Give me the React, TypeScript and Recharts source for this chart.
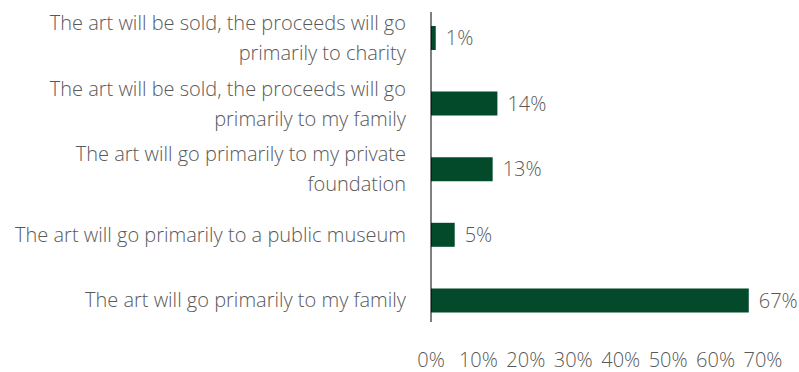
import React from 'react';
import { BarChart, Bar, XAxis, YAxis, LabelList } from 'recharts';

const categories = [
  'The art will be sold, the proceeds will go\nprimarily to charity',
  'The art will be sold, the proceeds will go\nprimarily to my family',
  'The art will go primarily to my private\nfoundation',
  'The art will go primarily to a public museum',
  'The art will go primarily to my family',
];
const shares = [1, 14, 13, 5, 67];
const xTicks = [0, 10, 20, 30, 40, 50, 60, 70];

const data = categories.map((name, i) => ({ name, share: shares[i] }));

const FONT = '"Open Sans", sans-serif';
const TEXT = '#595959';

function CategoryTick(props: any) {
  const { x, y, payload } = props;
  const lines = String(payload.value).split('\n');
  const lineH = 30;
  const start = -((lines.length - 1) * lineH) / 2;
  const tx = x - 17;
  return (
    <text x={tx} y={y} textAnchor="end" fill={TEXT} fontFamily={FONT} fontWeight={300} fontSize={20}>
      {lines.map((l, i) => (
        <tspan key={i} x={tx} y={y + start + i * lineH} dy="0.36em">
          {l}
        </tspan>
      ))}
    </text>
  );
}

export default function App() {
  return (
    <div style={{ position: 'absolute', left: 0, top: 0, width: 799, height: 372, background: '#fff' }}>
      <BarChart
        width={799}
        height={372}
        data={data}
        layout="vertical"
        margin={{ top: 12, right: 36, bottom: 0, left: 0 }}
      >
        <XAxis
          type="number"
          domain={[0, 70]}
          ticks={xTicks}
          tickFormatter={(v) => `${v}%`}
          axisLine={false}
          tickLine={false}
          height={50}
          tick={{ fill: TEXT, fontSize: 20, fontFamily: FONT, fontWeight: 300, dy: 23 }}
          interval={0}
        />
        <YAxis
          type="category"
          dataKey="name"
          width={431}
          tickLine={false}
          axisLine={{ stroke: '#000', strokeWidth: 1 }}
          tick={<CategoryTick />}
          interval={0}
          padding={{ top: -7, bottom: -11 }}
        />
        <Bar dataKey="share" fill="#034a2b" barSize={24} isAnimationActive={false}>
          <LabelList
            dataKey="share"
            position="right"
            offset={10}
            formatter={(v: any) => `${v}%`}
            fill={TEXT}
            fontSize={20}
            fontFamily={FONT}
            fontWeight={300}
          />
        </Bar>
      </BarChart>
    </div>
  );
}
